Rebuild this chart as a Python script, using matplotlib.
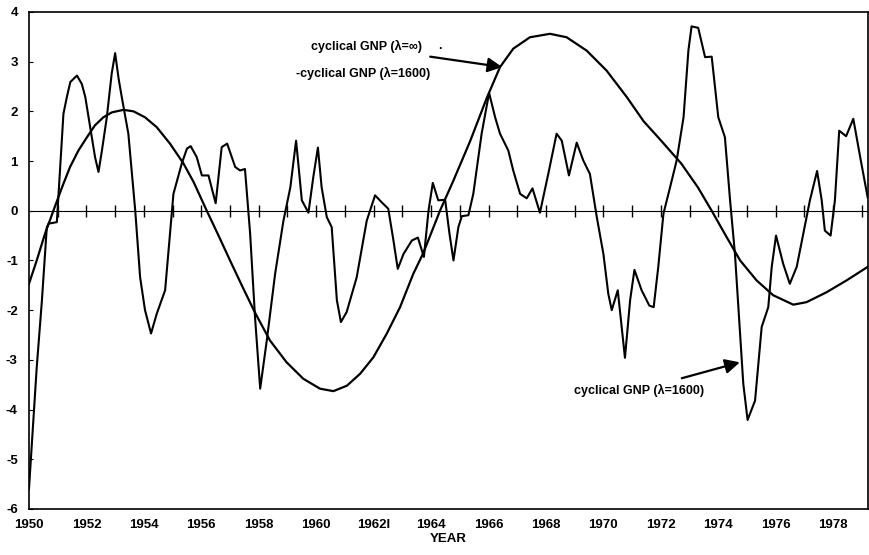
"""
Cyclical GNP: lambda=1600 filter vs lambda=infinity (linear trend), 1950-1979
"""

import matplotlib
matplotlib.use('Agg')
import matplotlib.pyplot as plt

plt.rcParams['font.family'] = ['Liberation Sans', 'DejaVu Sans']

# cyclical GNP (lambda=1600)
hp_years = [1950.00, 1950.27, 1950.45, 1950.62, 1950.68, 1950.97, 1951.20, 1951.32, 1951.44, 1951.67,
            1951.84, 1951.96, 1952.13, 1952.30, 1952.42, 1952.54, 1952.71, 1952.88, 1953.00, 1953.12,
            1953.23, 1953.46, 1953.70, 1953.87, 1954.04, 1954.25, 1954.45, 1954.74, 1954.86, 1955.03,
            1955.32, 1955.50, 1955.63, 1955.84, 1956.02, 1956.25, 1956.50, 1956.71, 1956.90, 1957.18,
            1957.35, 1957.52, 1957.70, 1957.87, 1958.05, 1958.28, 1958.57, 1958.86, 1959.10, 1959.30,
            1959.50, 1959.73, 1959.90, 1960.06, 1960.19, 1960.37, 1960.54, 1960.72, 1960.86, 1961.06,
            1961.41, 1961.76, 1962.05, 1962.28, 1962.51, 1962.69, 1962.84, 1963.04, 1963.33, 1963.54,
            1963.75, 1963.91, 1964.06, 1964.25, 1964.49, 1964.64, 1964.78, 1964.95, 1965.07, 1965.30,
            1965.47, 1965.76, 1966.02, 1966.23, 1966.40, 1966.69, 1966.86, 1967.10, 1967.33, 1967.53,
            1967.79, 1968.08, 1968.37, 1968.55, 1968.80, 1969.07, 1969.30, 1969.53, 1969.77, 1970.00,
            1970.17, 1970.29, 1970.50, 1970.75, 1970.93, 1971.08, 1971.33, 1971.60, 1971.75, 1971.91,
            1972.09, 1972.32, 1972.55, 1972.79, 1972.96, 1973.07, 1973.30, 1973.54, 1973.77, 1974.00,
            1974.23, 1974.41, 1974.58, 1974.76, 1974.87, 1975.02, 1975.28, 1975.51, 1975.74, 1975.86,
            1976.01, 1976.26, 1976.49, 1976.73, 1976.96, 1977.19, 1977.44, 1977.60, 1977.71, 1977.91,
            1978.06, 1978.21, 1978.45, 1978.70, 1978.94, 1979.20]
hp_values = [-5.60, -3.15, -1.81, -0.34, -0.26, -0.23, 1.95, 2.29, 2.59, 2.72,
             2.55, 2.29, 1.68, 1.08, 0.78, 1.21, 1.88, 2.76, 3.17, 2.66,
             2.29, 1.55, 0.00, -1.34, -2.00, -2.47, -2.07, -1.60, -0.80, 0.34,
             0.95, 1.25, 1.30, 1.08, 0.71, 0.71, 0.15, 1.28, 1.35, 0.88,
             0.81, 0.84, -0.46, -2.14, -3.58, -2.61, -1.27, -0.20, 0.47, 1.41,
             0.21, -0.04, 0.68, 1.27, 0.47, -0.13, -0.33, -1.80, -2.24, -2.04,
             -1.34, -0.20, 0.31, 0.17, 0.04, -0.60, -1.17, -0.87, -0.60, -0.54,
             -0.93, 0.00, 0.56, 0.21, 0.22, -0.46, -1.00, -0.33, -0.11, -0.09,
             0.34, 1.55, 2.37, 1.88, 1.55, 1.21, 0.81, 0.34, 0.25, 0.45,
             -0.04, 0.74, 1.55, 1.41, 0.71, 1.37, 1.01, 0.74, -0.13, -0.87,
             -1.67, -2.00, -1.60, -2.96, -1.80, -1.19, -1.60, -1.91, -1.94, -1.13,
             -0.06, 0.47, 1.01, 1.88, 3.23, 3.71, 3.68, 3.09, 3.10, 1.88,
             1.48, 0.21, -0.87, -2.47, -3.48, -4.21, -3.82, -2.34, -1.94, -1.13,
             -0.50, -1.07, -1.47, -1.13, -0.46, 0.21, 0.80, 0.21, -0.40, -0.50,
             0.21, 1.61, 1.50, 1.85, 1.08, 0.27]

# cyclical GNP (lambda=infinity)
lin_years = [1950.00, 1950.27, 1950.56, 1950.85, 1951.15, 1951.43, 1951.72, 1952.02, 1952.30, 1952.59,
             1952.89, 1953.29, 1953.64, 1954.04, 1954.45, 1954.91, 1955.38, 1955.73, 1956.19, 1956.60,
             1957.00, 1957.45, 1957.87, 1958.39, 1958.97, 1959.55, 1960.13, 1960.60, 1961.07, 1961.53,
             1961.99, 1962.46, 1962.92, 1963.38, 1963.73, 1964.31, 1964.78, 1965.36, 1965.94, 1966.40,
             1966.86, 1967.44, 1968.14, 1968.72, 1969.42, 1970.11, 1970.81, 1971.40, 1972.01, 1972.71,
             1973.29, 1973.77, 1974.29, 1974.76, 1975.33, 1975.91, 1976.61, 1977.07, 1977.77, 1978.47,
             1979.20]
lin_values = [-1.47, -1.00, -0.46, 0.00, 0.47, 0.88, 1.21, 1.48, 1.72, 1.88,
              1.98, 2.03, 2.00, 1.88, 1.68, 1.35, 0.95, 0.58, 0.00, -0.50,
              -1.00, -1.55, -2.05, -2.61, -3.05, -3.38, -3.58, -3.63, -3.52, -3.28,
              -2.95, -2.47, -1.94, -1.27, -0.85, 0.00, 0.61, 1.40, 2.27, 2.89,
              3.26, 3.49, 3.56, 3.49, 3.22, 2.82, 2.29, 1.80, 1.41, 0.95,
              0.47, 0.00, -0.53, -1.00, -1.40, -1.70, -1.89, -1.84, -1.64, -1.40,
              -1.13]

label_years = list(range(1950, 1980, 2))
label_text = ['1950', '1952', '1954', '1956', '1958', '1960', '1962l', '1964',
              '1966', '1968', '1970', '1972', '1974', '1976', '1978']
year_ticks = list(range(1951, 1980))
y_ticks = list(range(-6, 5))

fig = plt.figure(figsize=(8.7, 5.55), dpi=100)
ax = fig.add_axes([0.0333, 0.083, 0.9640, 0.8955])

ax.plot(hp_years, hp_values, color='black', lw=1.5, solid_joinstyle='round')
ax.plot(lin_years, lin_values, color='black', lw=1.6, solid_joinstyle='round')

ax.set_xlim(1950, 1979.2)
ax.set_ylim(-6, 4)

for s in ax.spines.values():
    s.set_linewidth(1.2)

ax.set_yticks(y_ticks)
ax.set_yticklabels([str(v) for v in y_ticks], fontweight='bold', fontsize=9.5)
ax.tick_params(axis='y', direction='in', length=3, pad=8)

ax.set_xticks(label_years)
ax.set_xticklabels(label_text, fontweight='bold', fontsize=9.5)
ax.tick_params(axis='x', length=0, pad=7)
ax.set_xlabel('YEAR', fontweight='bold', fontsize=9.5, labelpad=2)

# zero line with yearly tick marks crossing it
zero_ax = ax.secondary_xaxis(0.6)
zero_ax.set_xticks(year_ticks)
zero_ax.set_xticklabels([])
zero_ax.tick_params(direction='inout', length=8, width=1)
zero_ax.spines['bottom'].set_linewidth(1)

# annotations
ax.text(1961.74, 3.31, 'cyclical GNP (λ=∞)', ha='center', va='center',
        fontsize=9, fontweight='bold')
ax.text(1961.64, 2.76, '-cyclical GNP (λ=1600)', ha='center', va='center',
        fontsize=9, fontweight='bold')
ax.text(1964.31, 3.32, '.', ha='center', va='center', fontsize=9, fontweight='bold')
ax.annotate('', xy=(1966.48, 2.89), xytext=(1963.97, 3.10),
            arrowprops=dict(arrowstyle='-|>', mutation_scale=22, lw=1.6,
                            color='black', shrinkA=0, shrinkB=0))

ax.text(1971.24, -3.62, 'cyclical GNP (λ=1600)', ha='center', va='center',
        fontsize=9, fontweight='bold')
ax.annotate('', xy=(1974.75, -3.05), xytext=(1972.73, -3.37),
            arrowprops=dict(arrowstyle='-|>', mutation_scale=22, lw=1.6,
                            color='black', shrinkA=0, shrinkB=0))

fig.savefig('out.png', dpi=100)
